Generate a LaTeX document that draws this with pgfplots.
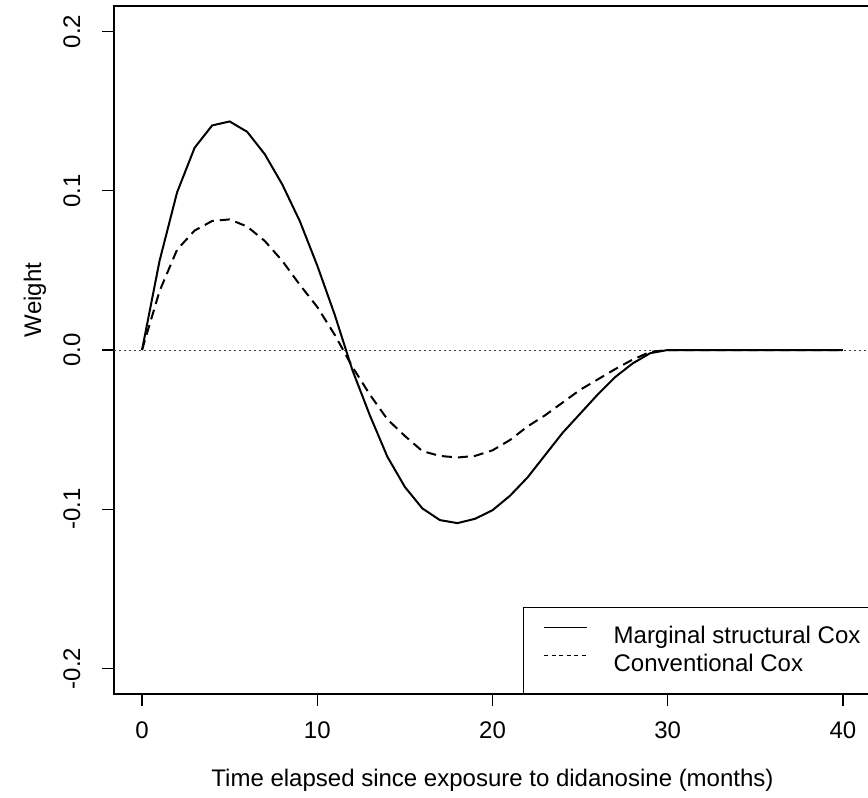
\documentclass[border=0pt]{standalone}
\usepackage{fontspec}
\setmainfont{Liberation Sans}
\usepackage{pgfplots}
\usepackage{pgfplotstable}
\pgfplotsset{compat=1.18}

\pgfplotstableread{
x y
0 0
1 0.056
2 0.099
3 0.127
4 0.141
5 0.1435
6 0.137
7 0.123
8 0.104
9 0.081
10 0.053
11 0.022
12 -0.0125
13 -0.041
14 -0.067
15 -0.086
16 -0.0995
17 -0.1068
18 -0.1087
19 -0.1060
20 -0.1006
21 -0.0915
22 -0.080
23 -0.066
24 -0.052
25 -0.040
26 -0.028
27 -0.017
28 -0.0084
29 -0.002
30 0
31 0
32 0
33 0
34 0
35 0
36 0
37 0
38 0
39 0
40 0
}\msm

\pgfplotstableread{
x y
0 0
1 0.037
2 0.063
3 0.075
4 0.081
5 0.082
6 0.0775
7 0.0685
8 0.056
9 0.041
10 0.027
11 0.0095
12 -0.0105
13 -0.028
14 -0.0435
15 -0.054
16 -0.0635
17 -0.0665
18 -0.0675
19 -0.0665
20 -0.063
21 -0.0565
22 -0.048
23 -0.041
24 -0.033
25 -0.025
26 -0.0185
27 -0.012
28 -0.006
29 -0.0012
30 0
31 0
32 0
33 0
34 0
35 0
36 0
37 0
38 0
39 0
40 0
}\conv

\begin{document}
\fontsize{12bp}{14.4bp}\selectfont
\begin{tikzpicture}[x=1bp,y=1bp]
\useasboundingbox (0,0) rectangle (434,398.5);
\begin{axis}[
  at={(57bp,51.5bp)}, anchor=south west,
  width=378.5bp, height=344bp, scale only axis,
  xmin=-1.6, xmax=41.6, ymin=-0.216, ymax=0.216,
  xtick={0,10,20,30,40}, ytick={-0.2,-0.1,0,0.1,0.2},
  minor tick num=0,
  tick align=outside, major tick length=6bp,
  xtick pos=left, ytick pos=left,
  tick style={black, line width=0.6bp},
  axis line style={black, line width=0.75bp},
  /pgf/number format/assume math mode=true,
  yticklabel={\pgfmathprintnumber[fixed,fixed zerofill,precision=1]{\tick}},
  xticklabel={\pgfmathprintnumber[fixed,precision=0]{\tick}},
  yticklabel style={rotate=90, anchor=base, inner sep=0pt, yshift=11bp},
  xticklabel style={anchor=north, inner sep=0pt, yshift=-7.5bp},
  xlabel={Time elapsed since exposure to didanosine (months)},
  ylabel={Weight},
  xlabel style={at={(axis description cs:0.5,0)}, anchor=center, yshift=-43bp, inner sep=0pt},
  ylabel style={at={(axis description cs:-0.1044,0.5727)}, anchor=center, inner sep=0pt},
  legend cell align=left,
  legend image code/.code={\draw[#1] (5.5bp,4.3bp) -- (27bp,4.3bp); \path[draw=none] (0bp,4.3bp) -- (5.5bp,4.3bp);},
  legend style={at={(rel axis cs:1,0)}, anchor=south east, draw=black, line width=0.6bp,
    inner xsep=5bp, inner ysep=7.5bp, row sep=0pt, column sep=13bp,
    nodes={inner sep=0pt, text height=10.3bp, text depth=3.7bp, font=\fontsize{12bp}{14.4bp}\selectfont}},
]
\addplot[forget plot, black!75, line width=0.5bp, dash pattern=on 1bp off 1.5bp] coordinates {(-1.6,0) (41.6,0)};
\addplot[forget plot, black, line width=1bp] table[x=x,y=y] {\msm};
\addplot[forget plot, black, line width=1bp, dash pattern=on 5bp off 3bp] table[x=x,y=y] {\conv};
\addlegendimage{black, line width=0.5bp}
\addlegendentry{Marginal structural Cox}
\addlegendimage{black, line width=0.5bp, dash pattern=on 2bp off 1.75bp}
\addlegendentry{Conventional Cox}
\end{axis}
\end{tikzpicture}
\end{document}
